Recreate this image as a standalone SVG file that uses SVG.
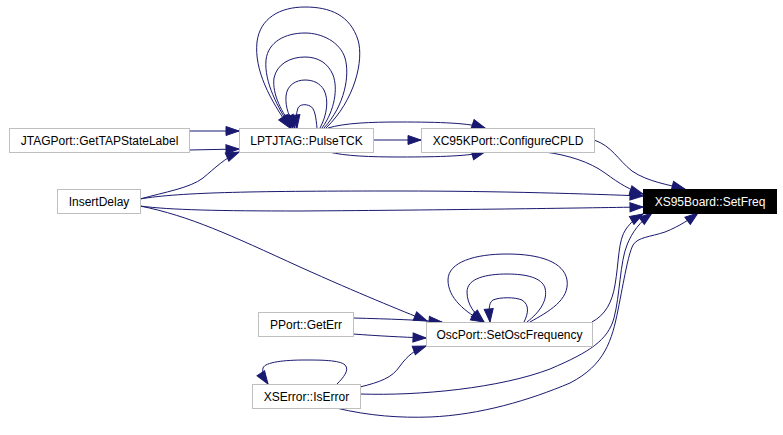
<svg xmlns="http://www.w3.org/2000/svg" width="783" height="435" viewBox="0 0 783 435">
<defs>
<style>
.n rect{fill:#ffffff;stroke:#bfbfbf;stroke-width:1}
.n text{font-family:"Liberation Sans",Arial,Helvetica,sans-serif;font-size:12px;fill:#000000;text-anchor:middle}
.n.hl rect{fill:#000000;stroke:#000000}
.n.hl text{fill:#ffffff}
#edges path{fill:none;stroke:#191970;stroke-width:1;marker-end:url(#ah)}
</style>
<marker id="ah" markerWidth="15" markerHeight="11" refX="13" refY="5" orient="auto" markerUnits="userSpaceOnUse" overflow="visible">
<path d="M0,0.5 L13,5 L0,9.5 z" fill="#191970" stroke="#191970" stroke-width="1"/>
</marker>
</defs>
<rect width="783" height="435" fill="#ffffff"/>
<g id="edges">
<path d="M189,131 L239,131"/>
<path d="M189,150 L239,149"/>
<path d="M140,199 C165,192 190,188 203,178 C215,168 225,158 239,152"/>
<path d="M326,128 C355,100 364,60 358,40 C350,15 330,7 305,7 C280,7 260,18 257,42 C254,70 270,100 290,128"/>
<path d="M324,128 C345,105 350,75 345,58 C340,42 322,33 305,33 C285,33 268,42 266,60 C264,82 278,108 291,128"/>
<path d="M322,128 C335,110 338,88 333,75 C328,63 318,57 305,57 C290,57 277,64 274,78 C272,95 282,112 293,128"/>
<path d="M320,128 C327,115 329,100 324,90 C320,83 313,80 305,80 C296,80 287,85 286,96 C285,108 290,118 295,128"/>
<path d="M317,128 C316,118 315,108 310,106 C306,104 300,104 298,108 C296,113 296,120 297,128"/>
<path d="M373,140 L421,140"/>
<path d="M328,128 C345,123 370,122 400,122 C440,122 470,123 485,128"/>
<path d="M329,152 C345,156 370,157 400,157 C440,157 470,156 485,152"/>
<path d="M594,140 C612,146 618,160 632,171 C648,182 670,185 685,189"/>
<path d="M545,152 C568,155 590,162 605,173 C620,184 630,190 643,194"/>
<path d="M140,199 C180,192 260,191 400,191 C500,191 590,194 643,196"/>
<path d="M140,206 C170,210 220,211 300,211 C450,210 580,208 643,207"/>
<path d="M140,206 C190,216 230,235 300,267 C360,294 400,310 427,321"/>
<path d="M353,318 C390,319 420,320 442,322"/>
<path d="M353,334 C380,336 400,337 426,338"/>
<path d="M360,387 C380,382 392,378 400,366 C408,355 415,350 426,346"/>
<path d="M337,384 C343,378 350,370 345,365 C340,360 320,360 305,360 C285,360 265,362 263,368 C262,373 264,378 268,384"/>
<path d="M530,322 C548,312 570,300 567,280 C564,262 540,254 507,254 C475,254 448,262 448,280 C448,298 465,312 484,322"/>
<path d="M527,322 C540,312 548,300 545,288 C542,278 527,274 507,274 C487,274 467,278 467,292 C467,305 475,314 484,322"/>
<path d="M524,322 C528,314 530,305 522,300 C515,297 500,297 493,300 C488,303 489,312 490,322"/>
<path d="M592,322 C605,315 612,303 615,285 C619,262 618,240 626,229 C631,222 636,218 643,214"/>
<path d="M360,394 C420,396 500,388 550,369 C590,352 608,340 614,318 C620,295 620,262 627,245 C632,232 640,222 652,213"/>
<path d="M336,408 C370,416 400,418 430,417 C480,415 530,400 570,383 C605,365 612,340 618,310 C624,280 628,255 633,245 C638,237 650,237 665,232 C680,226 690,219 698,213"/>
</g>
<g id="n_gettap" class="n"><rect x="9.5" y="128.5" width="180" height="24"/><text x="99.5" y="144.5">JTAGPort::GetTAPStateLabel</text></g>
<g id="n_pulsetck" class="n"><rect x="239.5" y="128.5" width="134" height="24"/><text x="306.5" y="144.5">LPTJTAG::PulseTCK</text></g>
<g id="n_insertdelay" class="n"><rect x="57.5" y="189.5" width="83" height="24"/><text x="99" y="205.5">InsertDelay</text></g>
<g id="n_configurecpld" class="n"><rect x="421.5" y="128.5" width="173" height="24"/><text x="508" y="144.5">XC95KPort::ConfigureCPLD</text></g>
<g id="n_setfreq" class="n hl"><rect x="643.5" y="189.5" width="133" height="24"/><text x="710" y="205.5">XS95Board::SetFreq</text></g>
<g id="n_geterr" class="n"><rect x="258.5" y="312.5" width="95" height="24"/><text x="306" y="328.5">PPort::GetErr</text></g>
<g id="n_setosc" class="n"><rect x="426.5" y="322.5" width="166" height="24"/><text x="509.5" y="338.5">OscPort::SetOscFrequency</text></g>
<g id="n_iserror" class="n"><rect x="252.5" y="384.5" width="108" height="24"/><text x="306.5" y="400.5">XSError::IsError</text></g>
</svg>
